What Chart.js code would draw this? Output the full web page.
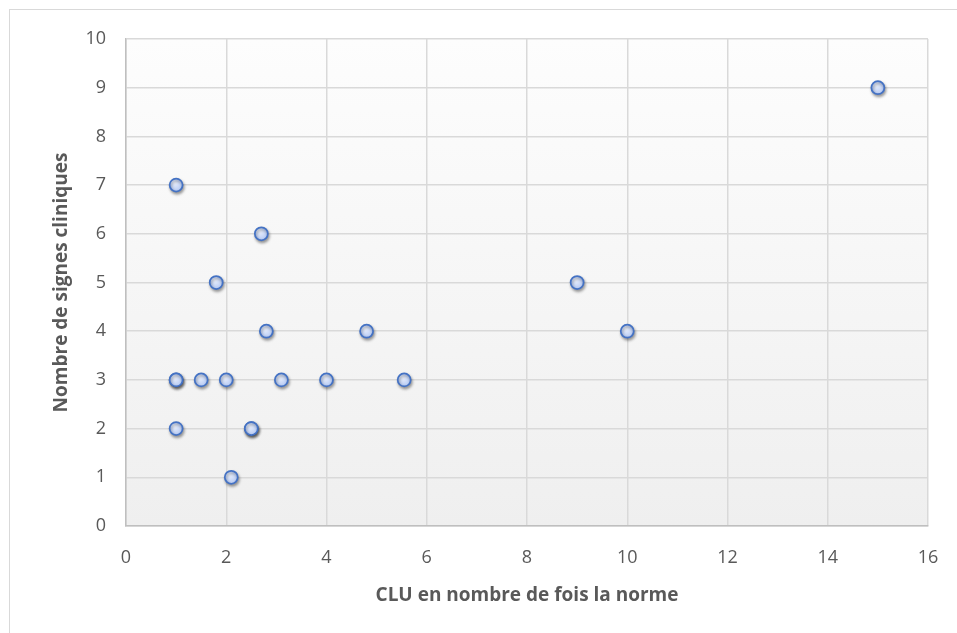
<!DOCTYPE html>
<html>
<head>
<meta charset="utf-8">
<script src="https://cdn.jsdelivr.net/npm/chart.js@4"></script>
<style>
html,body{margin:0;padding:0;background:#fff;}
#wrap{width:957px;height:633px;position:relative;}
</style>
</head>
<body>
<div id="wrap"><canvas id="c" width="957" height="633"></canvas></div>
<script>
// Data
const cluValues   = [1, 2.7, 1.8, 2.8, 4.8, 1, 1, 1.5, 2, 3.1, 4, 5.55, 1, 2.5, 2.5, 2.1, 9, 10, 15];
const signsValues = [7, 6,   5,   4,   4,   3, 3, 3,   3, 3,   3, 3,    2, 2,   2,   1,   5, 4,  9];
const xTitle = 'CLU en nombre de fois la norme';
const yTitle = 'Nombre de signes cliniques';
const xMin = 0, xMax = 16, xStep = 2;
const yMin = 0, yMax = 10, yStep = 1;

const points = cluValues.map((v, i) => ({x: v, y: signsValues[i]}));

const FONT = '"Open Sans", sans-serif';
const TEXT = '#595959';

const bgPlugin = {
  id: 'bg',
  beforeDraw(chart) {
    const {ctx, chartArea: a} = chart;
    ctx.save();
    ctx.fillStyle = '#ffffff';
    ctx.fillRect(0, 0, chart.width, chart.height);
    ctx.strokeStyle = '#d9d9d9';
    ctx.lineWidth = 1;
    ctx.strokeRect(9.5, 9.5, chart.width, chart.height);
    const g = ctx.createLinearGradient(0, a.top, 0, a.bottom);
    g.addColorStop(0, '#fdfdfd');
    g.addColorStop(1, '#efefef');
    ctx.fillStyle = g;
    ctx.fillRect(a.left, a.top, a.right - a.left, a.bottom - a.top);
    ctx.restore();
  },
  beforeDatasetsDraw(chart) {
    const ctx = chart.ctx;
    ctx.save();
    ctx.shadowColor = 'rgba(0,0,0,0.35)';
    ctx.shadowBlur = 3;
    ctx.shadowOffsetX = 1;
    ctx.shadowOffsetY = 2;
  },
  afterDatasetsDraw(chart) {
    chart.ctx.restore();
  }
};

function pointFill(context) {
  const chart = context.chart;
  const raw = context.raw;
  if (!raw || !chart.chartArea) return '#bfd0f5';
  const px = chart.scales.x.getPixelForValue(raw.x);
  const py = chart.scales.y.getPixelForValue(raw.y);
  const g = chart.ctx.createRadialGradient(px - 2, py - 3, 0, px, py, 7);
  g.addColorStop(0, '#f0f4fd');
  g.addColorStop(1, '#b2c7f3');
  return g;
}

new Chart(document.getElementById('c'), {
  type: 'scatter',
  data: {
    datasets: [{
      data: points,
      pointRadius: 6.5,
      pointHoverRadius: 6.5,
      pointBorderWidth: 1.75,
      borderColor: '#4472c4',
      pointBorderColor: '#4472c4',
      pointBackgroundColor: pointFill
    }]
  },
  options: {
    responsive: false,
    animation: false,
    devicePixelRatio: 1,
    layout: {padding: {left: 0, top: 39, right: 29, bottom: 0}},
    plugins: {legend: {display: false}, tooltip: {enabled: false}},
    scales: {
      x: {
        type: 'linear', min: xMin, max: xMax,
        afterFit(s) { s.height = 107; s.paddingLeft = 0; s.paddingRight = 0; },
        ticks: {stepSize: xStep, color: TEXT, font: {family: FONT, size: 18}, padding: 21},
        grid: {color: '#d9d9d9', lineWidth: 1.5, drawTicks: false},
        border: {color: '#bfbfbf', width: 1.5},
        title: {display: true, text: xTitle, color: TEXT, font: {family: FONT, size: 19, weight: 'bold'}, padding: {top: 0, bottom: 26}}
      },
      y: {
        type: 'linear', min: yMin, max: yMax,
        afterFit(s) { s.width = 126; s.paddingTop = 0; s.paddingBottom = 0; },
        ticks: {stepSize: yStep, color: TEXT, font: {family: FONT, size: 18}, padding: 20},
        grid: {color: '#d9d9d9', lineWidth: 1.5, drawTicks: false},
        border: {color: '#bfbfbf', width: 1.5},
        title: {display: true, text: yTitle, color: TEXT, font: {family: FONT, size: 19, weight: 'bold'}, padding: {top: 50, bottom: 0}}
      }
    }
  },
  plugins: [bgPlugin]
});
</script>
</body>
</html>
